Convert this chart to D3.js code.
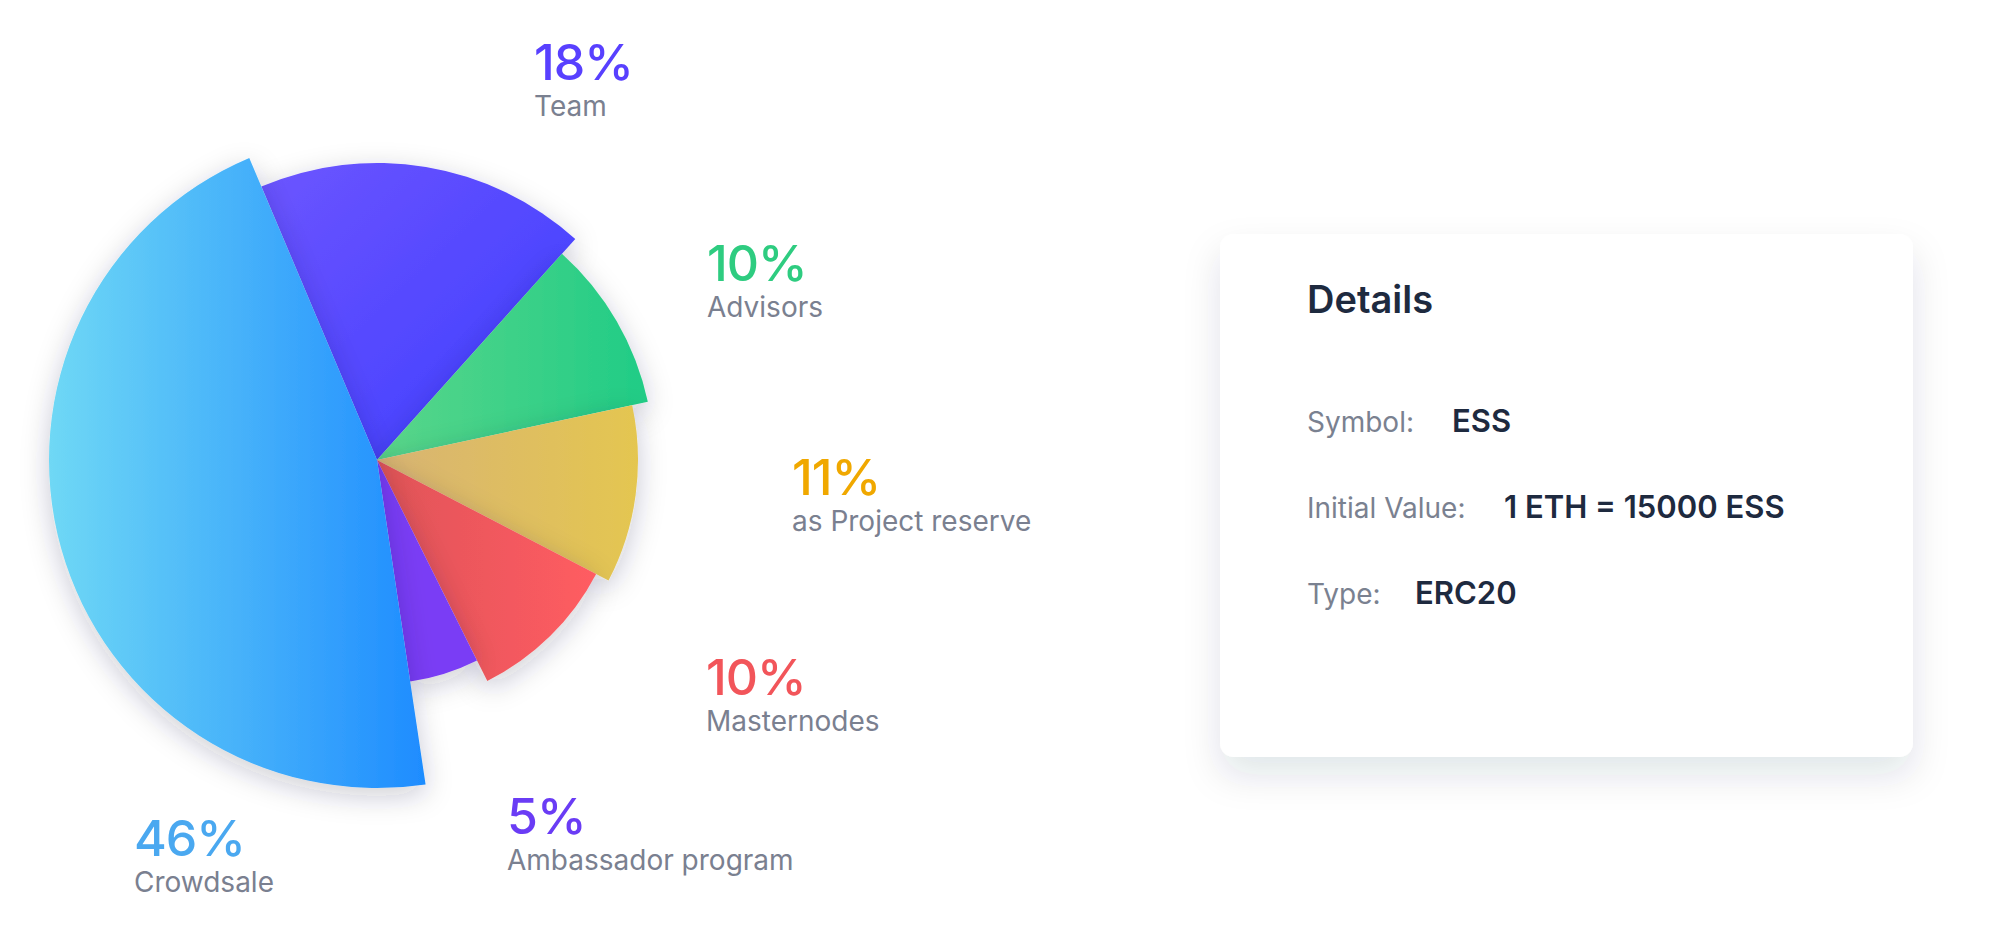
<!DOCTYPE html>
<html><head><meta charset="utf-8">
<script src="https://cdn.jsdelivr.net/npm/d3@7"></script>
<style>
body{margin:0;background:#fff;font-family:Inter,"Noto Sans",sans-serif;}
</style></head>
<body><svg id="chart" width="1994" height="938"></svg>
<script>
const names = ["Team","Advisors","as Project reserve","Masternodes","Ambassador program","Crowdsale"];
const values = [18,10,11,10,5,46];
const radii = [297,277,261,247,224,328];
const colorsA = ["#6c55ff","#5ad68a","#d8b474","#e05458","#7a3cf5","#6fd8f5"];
const colorsB = ["#3c3cff","#20cc86","#e4c650","#ff5c62","#7a3cf5","#1e8cff"];
const labelColors = ["#5840ff","#2ecc80","#f0a800","#f2555a","#6a3cf5","#4aa8f0"];
const labelPos = [[534,80],[707,281],[792,495],[706,695],[507,834],[134,856]];
const detailKeys = ["Symbol:","Initial Value:","Type:"];
const detailVals = ["ESS","1 ETH = 15000 ESS","ERC20"];

const svg = d3.select("#chart");
const defs = svg.append("defs");
const sh = defs.append("filter").attr("id","sh").attr("x","-30%").attr("y","-30%").attr("width","160%").attr("height","160%");
sh.append("feDropShadow").attr("dx",0).attr("dy",8).attr("stdDeviation",14).attr("flood-color","#1a2040").attr("flood-opacity",0.22);
const cs = defs.append("filter").attr("id","cs").attr("x","-20%").attr("y","-20%").attr("width","140%").attr("height","150%");
cs.append("feDropShadow").attr("dx",0).attr("dy",18).attr("stdDeviation",18).attr("flood-color","#1a2550").attr("flood-opacity",0.12);

values.forEach((v,i) => {
  const g = defs.append("linearGradient").attr("id","g"+i).attr("x1","0").attr("x2","1").attr("y1","0").attr("y2", i==0 ? "1" : "0");
  g.append("stop").attr("offset","0%").attr("stop-color",colorsA[i]);
  g.append("stop").attr("offset","100%").attr("stop-color",colorsB[i]);
});

const start = -0.4;
const pie = d3.pie().sort(null).value(d => d).startAngle(start).endAngle(start + 2*Math.PI);
const arcs = pie(values);
const cx = 377, cy = 460;
const pg = svg.append("g").attr("transform",`translate(${cx},${cy})`);
pg.selectAll("path").data(arcs.map((a,i) => ({a, i})))
  .enter().append("path")
  .attr("d", d => d3.arc().innerRadius(0).outerRadius(radii[d.i])(d.a))
  .attr("fill", d => `url(#g${d.i})`)
  .attr("filter","url(#sh)");

const lg = svg.append("g");
names.forEach((n,i) => {
  lg.append("text").attr("x",labelPos[i][0]).attr("y",labelPos[i][1])
    .attr("font-size",50).attr("font-weight",500).attr("letter-spacing",-1).attr("fill",labelColors[i]).text(values[i]+"%");
  lg.append("text").attr("x",labelPos[i][0]).attr("y",labelPos[i][1]+36)
    .attr("font-size",28).attr("fill","#7a8090").text(n);
});

const card = svg.append("g");
card.append("rect").attr("x",1220).attr("y",234).attr("width",693).attr("height",523).attr("rx",14)
  .attr("fill","#fff").attr("filter","url(#cs)");
card.append("text").attr("x",1307).attr("y",313).attr("font-size",38).attr("font-weight",600).attr("fill","#1e2a3f").text("Details");
const vx = [1452,1504,1415];
detailKeys.forEach((k,i) => {
  const y = 432 + i*86;
  card.append("text").attr("x",1307).attr("y",y).attr("font-size",28).attr("fill","#7a8190").text(k);
  card.append("text").attr("x",vx[i]).attr("y",y).attr("font-size",31).attr("font-weight",600).attr("fill","#1e2a3f").text(detailVals[i]);
});
</script>
</body></html>
